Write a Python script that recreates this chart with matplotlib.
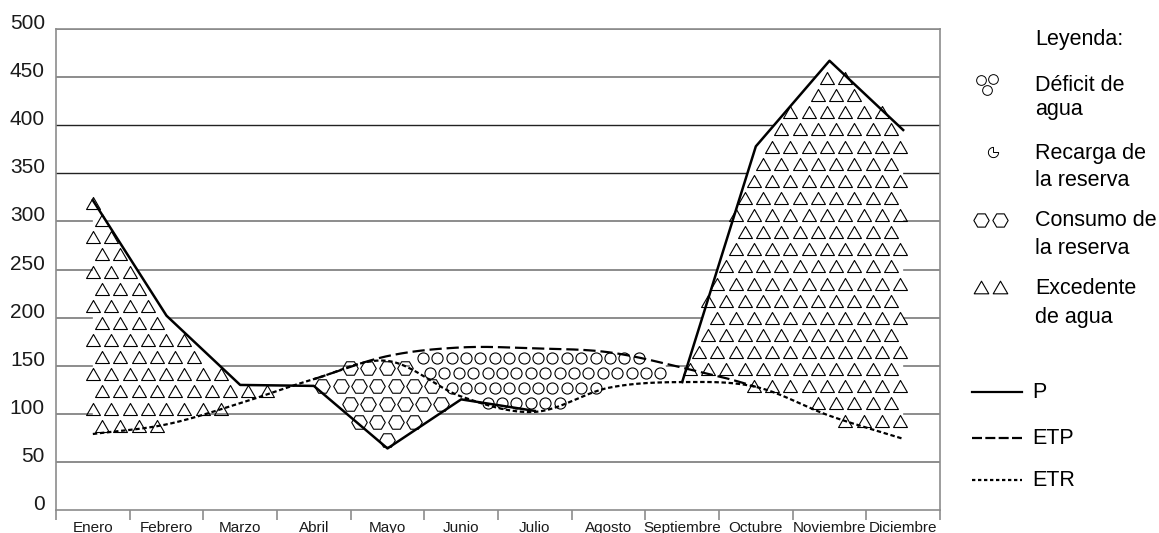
import numpy as np
import matplotlib.pyplot as plt
from matplotlib.path import Path
from matplotlib.lines import Line2D

plt.rcParams['font.family'] = ['Liberation Sans', 'DejaVu Sans']

# datos (mm)
meses = ["Enero", "Febrero", "Marzo", "Abril", "Mayo", "Junio", "Julio",
         "Agosto", "Septiembre", "Octubre", "Noviembre", "Diciembre"]
p = [322, 202, 130, 129, 64, 115, 103, 127, 133, 378, 467, 395]
etp = [79, 89, 111, 136, 160, 169, 168, 164, 148, 128, 98, 74]
etr = [79, 89, 111, 136, 155, 118, 102, 127, 133, 128, 98, 74]
yticks = [0, 50, 100, 150, 200, 250, 300, 350, 400, 450, 500]

W, H = 1159, 533
GRAY = '#8c8c8c'


def smooth(y, n=40):
    # linea suavizada (tipo Excel) que pasa por los 12 valores
    y = np.asarray(y, float)
    m = np.gradient(y)
    xs, ys = [], []
    for i in range(len(y) - 1):
        t = np.linspace(0, 1, n, endpoint=(i == len(y) - 2))
        h00 = 2*t**3 - 3*t**2 + 1
        h10 = t**3 - 2*t**2 + t
        h01 = -2*t**3 + 3*t**2
        h11 = t**3 - t**2
        xs.append(i + t)
        ys.append(h00*y[i] + h10*m[i] + h01*y[i+1] + h11*m[i+1])
    return np.concatenate(xs) + 0.5, np.concatenate(ys)


x = np.arange(12) + 0.5
xs, etr_s = smooth(etr)
_, etp_s = smooth(etp)
p_lin = np.interp(xs, x, p)

fig = plt.figure(figsize=(W/100, H/100), dpi=100)
ax = fig.add_axes([56/W, 23/H, 884/W, 481/H])
ax.set_xlim(0, 12)
ax.set_ylim(0, 500)

# lineas de division
for v in yticks[1:]:
    dark = v in (350, 400)
    ax.axhline(v, color='#222222' if dark else GRAY, lw=1.0 if dark else 1.4, zorder=0.5)


def pattern(mask, x0, y0, dx, dy, low, up, **kw):
    coll = ax.fill_between(xs, low, up, where=mask, interpolate=True,
                           facecolor='white', edgecolor='none', zorder=1)
    gx, gy = [], []
    for j in range(-40, 40):
        for i in range(-5, 70):
            gx.append(x0 + (i + 0.5*(j % 2))*dx)
            gy.append(y0 + j*dy)
    pts = np.column_stack([gx, gy])
    inside = np.zeros(len(pts), bool)
    for path in coll.get_paths():
        inside |= path.contains_points(pts)
    ax.plot(pts[inside, 0], pts[inside, 1], ls='none', mfc='none', mec='black',
            zorder=2, **kw)


tri_marker = Path([(-0.5, -0.433), (0.5, -0.433), (0, 0.433), (-0.5, -0.433)],
                  [Path.MOVETO, Path.LINETO, Path.LINETO, Path.CLOSEPOLY])

# excedente de agua
pattern((p_lin > etr_s) & (xs < 4), 0.501, 319, 0.2484, 17.8, etr_s, p_lin,
        marker=tri_marker, ms=10, mew=0.8)
pattern((p_lin > etr_s) & (xs >= 8.5), 0.53, 449, 0.2484, 17.8, etr_s, p_lin,
        marker=tri_marker, ms=10, mew=0.8)
# consumo de la reserva
pattern((etr_s > p_lin) & (xs > 3.6) & (xs < 6), 3.99, 148, 0.2484, 18.7,
        p_lin, etr_s, marker='H', ms=11.2, mew=0.8)
# deficit de agua
pattern((etp_s > etr_s) & (xs > 4.8) & (xs < 8.3), 4.98, 158, 0.1955, 15.5,
        etr_s, etp_s, marker='o', ms=8, mew=0.8)

# lineas
p_draw = np.array(p, float)
p_draw[7] = np.nan
ax.plot(x, p_draw, color='black', lw=1.8, zorder=3)
etp_draw = np.where((xs >= 3.5) & (xs <= 9.5), etp_s, np.nan)
ax.plot(xs, etp_draw, color='black', lw=1.6, dashes=(5.5, 2.2), zorder=3)
ax.plot(xs, etr_s, color='black', lw=1.6, dashes=(2.0, 1.2), zorder=3)

# ejes
for s in ax.spines.values():
    s.set_color(GRAY)
    s.set_linewidth(1.2)
ax.set_yticks(yticks)
ax.set_yticklabels([str(v) for v in yticks], fontsize=15, color='#1a1a1a')
for lab in ax.get_yticklabels():
    lab.set_va('baseline')
ax.tick_params(axis='y', length=0, pad=8)
ax.set_xticks(np.arange(13))
ax.set_xticklabels([])
ax.set_xticks(x, minor=True)
ax.set_xticklabels(meses, minor=True, fontsize=11, color='#1a1a1a')
ax.tick_params(axis='x', which='major', length=7, color=GRAY, width=1.2)
ax.tick_params(axis='x', which='minor', length=0, pad=8)


# leyenda
def fx(px):
    return px / W


def fy(py):
    return 1 - py / H


fs = 15.5
fig.text(fx(1035), fy(40), "Leyenda:", fontsize=fs, va='center')
textos = [("Déficit de", 85), ("agua", 110), ("Recarga de", 153), ("la reserva", 180),
          ("Consumo de", 220), ("la reserva", 248), ("Excedente", 288), ("de agua", 317)]
for t, yy in textos:
    fig.text(fx(1035), fy(yy), t, fontsize=fs, va='center')


def sym(xx, yy, **kw):
    fig.add_artist(Line2D([fx(v) for v in xx], [fy(v) for v in yy], ls='none',
                          mfc='none', mec='black', transform=fig.transFigure, **kw))


sym([981, 993, 987], [80, 79, 90], marker='o', ms=7, mew=0.7)
sym([993], [152], marker=Path.wedge(90, 360), ms=7.5, mew=0.7)
sym([981, 1000], [220, 220], marker='H', ms=11, mew=0.8)
sym([981, 1000], [287, 287], marker=tri_marker, ms=10.5, mew=0.8)

for lab, yy, st in [("P", 392, {}), ("ETP", 438, {'dashes': (4.5, 1.5)}),
                    ("ETR", 480, {'dashes': (1.5, 1.2)})]:
    fig.add_artist(Line2D([fx(972), fx(1022)], [fy(yy), fy(yy)], color='black',
                          lw=1.6, transform=fig.transFigure, **st))
    fig.text(fx(1032), fy(yy), lab, fontsize=fs, va='center')

fig.savefig('out.png', dpi=100)
